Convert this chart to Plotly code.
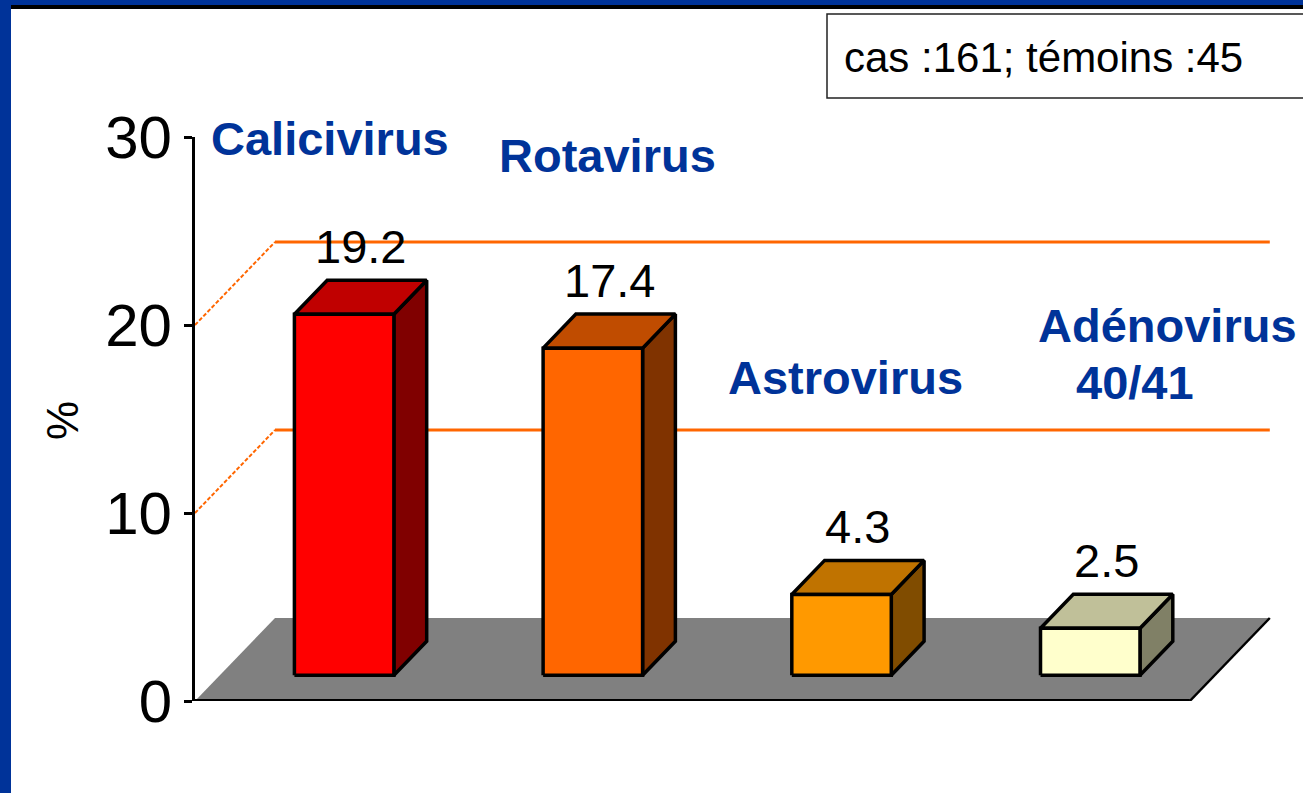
import plotly.graph_objects as go

# ---------------- data ----------------
CATEGORIES = ["Calicivirus", "Rotavirus", "Astrovirus", "Adénovirus<br>40/41"]
VALUES = [19.2, 17.4, 4.3, 2.5]
VALUE_LABELS = ["19.2", "17.4", "4.3", "2.5"]
GRID_VALUES = [10, 20]
TICK_VALUES = [0, 10, 20, 30]
TICK_LABELS = ["0", "10", "20", "30"]
Y_TITLE = "%"
NOTE_TEXT = "cas :161; témoins :45"

# ---------------- styles ----------------
FRONT_COLORS = ["#FF0000", "#FF6600", "#FF9900", "#FFFFCC"]
TOP_COLORS = ["#C00000", "#C04C00", "#C07300", "#C0C099"]
SIDE_COLORS = ["#800000", "#803300", "#804C00", "#808066"]
BLUE = "#003399"
ORANGE = "#FF6600"
FLOOR = "#808080"
NUMFONT = "Liberation Sans Narrow, Arial Narrow, Liberation Sans, Arial, sans-serif"
SANS = "Liberation Sans, Arial, sans-serif"

# geometry of the pseudo-3D projection (axis units)
W, H = 1303, 793
L, R, T, B = 195, 0, 137, 92
X_UNIT = 248.7            # px per category
Y_UNIT = (H - B - T) / 30  # px per %
DX = 80 / X_UNIT          # horizontal shift of full floor depth
DY = 83 / Y_UNIT          # vertical shift of full floor depth
D0, D1 = 0.31, 0.72       # bar depth span (fraction of floor depth)
HW = 0.2                  # bar half width
X0 = -0.5
X_END = X0 + (W - L - R) / X_UNIT
N = len(VALUES)


def px(p):
    return (p - L) / (W - L - R)


def py(q):
    return (H - B - q) / (H - B - T)


fig = go.Figure()


def poly(xs, ys, fill, lw=3.5, lc="black"):
    fig.add_trace(go.Scatter(
        x=list(xs) + [xs[0]], y=list(ys) + [ys[0]], mode="lines", fill="toself",
        fillcolor=fill, line=dict(color=lc, width=lw), hoverinfo="skip",
        cliponaxis=False))


def line(xs, ys, color, width, dash=None):
    fig.add_trace(go.Scatter(
        x=xs, y=ys, mode="lines", line=dict(color=color, width=width, dash=dash),
        hoverinfo="skip", cliponaxis=False))


# floor
fx0, fx1 = X0, X0 + N
fig.add_trace(go.Scatter(
    x=[fx0, fx1, fx1 + DX, fx0 + DX, fx0], y=[0, 0, DY, DY, 0], mode="lines",
    fill="toself", fillcolor=FLOOR, line=dict(width=0), hoverinfo="skip",
    cliponaxis=False))
line([fx1, fx1 + DX], [0, DY], "black", 2.5)

# back-wall gridlines
for g in GRID_VALUES:
    line([fx0, fx0 + DX], [g, g + DY], ORANGE, 2, dash="4px,2px")
    line([fx0 + DX, fx1 + DX], [g + DY, g + DY], ORANGE, 3)

# bars
for i, v in enumerate(VALUES):
    xl, xr = i - HW, i + HW
    # side face
    poly([xr + D0 * DX, xr + D1 * DX, xr + D1 * DX, xr + D0 * DX],
         [D0 * DY, D1 * DY, v + D1 * DY, v + D0 * DY], SIDE_COLORS[i])
    # top face
    poly([xl + D0 * DX, xr + D0 * DX, xr + D1 * DX, xl + D1 * DX],
         [v + D0 * DY, v + D0 * DY, v + D1 * DY, v + D1 * DY], TOP_COLORS[i])
    # front face
    poly([xl + D0 * DX, xr + D0 * DX, xr + D0 * DX, xl + D0 * DX],
         [D0 * DY, D0 * DY, v + D0 * DY, v + D0 * DY], FRONT_COLORS[i])

# front edge of the floor (x axis)
line([fx0, fx1], [0, 0], "black", 4)

annotations = []
# value labels
for i, (v, lab) in enumerate(zip(VALUES, VALUE_LABELS)):
    annotations.append(dict(
        x=i + (D0 + D1) / 2 * DX, y=v + D1 * DY, xref="x", yref="y",
        text=lab, showarrow=False, yanchor="bottom", xanchor="center", yshift=5,
        font=dict(family=NUMFONT, size=47, color="black")))

# category labels
CAT_POS = [[(330, 139)], [(607, 155)], [(845, 377)], [(1167, 325), (1135, 382)]]
for cat, positions in zip(CATEGORIES, CAT_POS):
    for part, (cx, cy) in zip(cat.split("<br>"), positions):
        annotations.append(dict(
            x=px(cx), y=py(cy), xref="paper", yref="paper", text=part,
            showarrow=False, xanchor="center", yanchor="middle",
            font=dict(family=SANS, size=47, color=BLUE, weight="bold")))

# y title
annotations.append(dict(
    x=px(62), y=py(421), xref="paper", yref="paper", text=Y_TITLE, textangle=-90,
    showarrow=False, xanchor="center", yanchor="middle",
    font=dict(family=NUMFONT, size=44, color="black")))

# note box text
annotations.append(dict(
    x=px(842), y=py(57), xref="paper", yref="paper", text=NOTE_TEXT,
    showarrow=False, xanchor="left", yanchor="middle",
    font=dict(family=SANS, size=42, color="black")))

shapes = [
    # note box
    dict(type="rect", xref="paper", yref="paper", x0=px(827), x1=px(1320),
         y0=py(98), y1=py(14), line=dict(color="#222222", width=1.5),
         fillcolor="white", layer="below"),
    # frame
    dict(type="rect", xref="paper", yref="paper", x0=px(-5), x1=px(11),
         y0=py(H + 5), y1=py(-5), line=dict(width=0), fillcolor=BLUE),
    dict(type="rect", xref="paper", yref="paper", x0=px(-5), x1=px(W + 5),
         y0=py(5), y1=py(-5), line=dict(width=0), fillcolor=BLUE),
    dict(type="rect", xref="paper", yref="paper", x0=px(11), x1=px(W + 5),
         y0=py(9), y1=py(5), line=dict(width=0), fillcolor="black"),
]

fig.update_layout(
    width=W, height=H, margin=dict(l=L, r=R, t=T, b=B, autoexpand=False),
    paper_bgcolor="white", plot_bgcolor="rgba(0,0,0,0)", showlegend=False,
    xaxis=dict(range=[X0, X_END], visible=False, fixedrange=True),
    yaxis=dict(range=[0, 30], tickvals=TICK_VALUES, ticktext=TICK_LABELS,
               ticks="outside", ticklen=8, tickwidth=3, tickcolor="black",
               showline=True, linewidth=3, linecolor="black", showgrid=False,
               zeroline=False, fixedrange=True,
               tickfont=dict(family=NUMFONT, size=60, color="black")),
    annotations=annotations, shapes=shapes,
)

fig.write_html("out.html", config={"displayModeBar": False},
               post_script="document.body.style.margin='0';document.body.style.overflow='hidden';")
